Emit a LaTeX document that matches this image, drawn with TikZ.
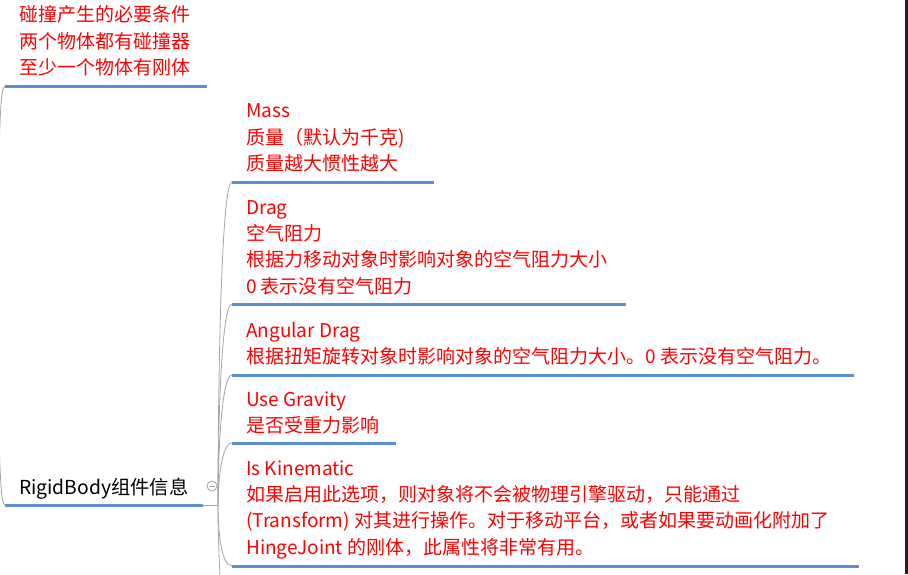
\documentclass[tikz,border=0pt]{standalone}
\usepackage{fontspec}
\setmainfont{Noto Sans CJK SC}
\definecolor{ulblue}{RGB}{91,143,211}
\definecolor{conngray}{RGB}{165,165,165}
\definecolor{edgebar}{RGB}{42,28,38}
\newcommand{\tstrut}{\rule{0pt}{20pt}}
\tikzset{
  leaf/.style={anchor=north west, inner sep=0pt, align=left, text=red, font=\fontsize{19}{26.3}\selectfont},
  rootnode/.style={anchor=north west, inner sep=0pt, align=left, text=black, font=\fontsize{19.3}{26}\selectfont},
  uline/.style={draw=ulblue, line width=3pt},
  conn/.style={draw=conngray, line width=0.8pt},
}
\begin{document}
\begin{tikzpicture}[x=1pt,y=-1pt]
\useasboundingbox (0,0) rectangle (908,574);
\begin{scope}
\clip (0,0) rectangle (908,574);
% texts
\node[leaf] (cond) at (19,1.5) {\tstrut 碰撞产生的必要条件\\两个物体都有碰撞器\\至少一个物体有刚体};
\node[rootnode] (root) at (19,474) {\tstrut RigidBody组件信息};
\node[leaf] (mass) at (246,97.5) {\tstrut Mass\\质量（默认为千克)\\质量越大惯性越大};
\node[leaf] (drag) at (246,194) {\tstrut Drag\\空气阻力\\根据力移动对象时影响对象的空气阻力大小\\0 表示没有空气阻力};
\node[leaf] (adrag) at (246,317) {\tstrut Angular Drag\\根据扭矩旋转对象时影响对象的空气阻力大小。0 表示没有空气阻力。};
\node[leaf] (grav) at (246,386) {\tstrut Use Gravity\\是否受重力影响};
\node[leaf] (kin) at (246,455) {\tstrut Is Kinematic\\如果启用此选项，则对象将不会被物理引擎驱动，只能通过\\(Transform) 对其进行操作。对于移动平台，或者如果要动画化附加了\\HingeJoint 的刚体，此属性将非常有用。};
% underline end points
\coordinate (condL) at (5,86);   \coordinate (condR) at (207,86);
\coordinate (rootL) at (5,505);  \coordinate (rootR) at (203,505);
\coordinate (massL) at (232,182); \coordinate (massR) at (434,182);
\coordinate (dragL) at (232,304); \coordinate (dragR) at (626,304);
\coordinate (adragL) at (232,375); \coordinate (adragR) at (854,375);
\coordinate (gravL) at (232,443); \coordinate (gravR) at (396,443);
\coordinate (kinL) at (232,566); \coordinate (kinR) at (859,566);
\coordinate (hub) at (218,505);
\coordinate (offL1) at (-1,150);
\coordinate (offL2) at (-1,440);
\coordinate (below) at (220,580);
% connectors
\draw[conn] (condL) .. controls (1,88) and (0.5,110) .. (offL1);
\draw[conn] (rootL) .. controls (1,503) and (0.5,480) .. (offL2);
\draw[conn] (rootR) -- (hub);
\draw[conn] (hub) .. controls (218,390) and (221,182) .. (massL);
\draw[conn] (hub) .. controls (218,430) and (221,304) .. (dragL);
\draw[conn] (hub) .. controls (218,460) and (221,375) .. (adragL);
\draw[conn] (hub) .. controls (218,485) and (221,443) .. (gravL);
\draw[conn] (hub) .. controls (218,530) and (221,566) .. (kinL);
\draw[conn] (hub) .. controls (218,540) and (219.5,560) .. (below);
% underlines
\draw[uline] (condL) -- (condR);
\draw[uline] (rootL) -- (rootR);
\draw[uline] (massL) -- (massR);
\draw[uline] (dragL) -- (dragR);
\draw[uline] (adragL) -- (adragR);
\draw[uline] (gravL) -- (gravR);
\draw[uline] (kinL) -- (kinR);
% collapse toggle
\node[circle, draw=conngray, fill=white, line width=0.8pt, minimum size=10pt, inner sep=0pt] (tog) at (212,486) {};
\draw[conngray, line width=0.8pt] ([xshift=-2.5pt]tog.center) -- ([xshift=2.5pt]tog.center);
% right edge bar
\fill[edgebar] (905,0) rectangle (908,574);
\end{scope}
\end{tikzpicture}
\end{document}
